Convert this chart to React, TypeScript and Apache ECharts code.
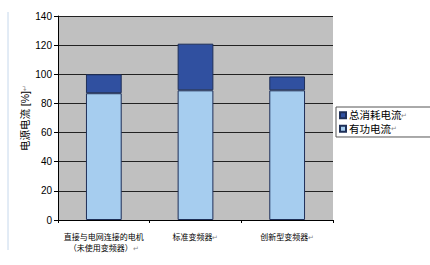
import React, { useEffect, useRef } from "react";
import * as echarts from "echarts";

// Supply current per drive configuration (% of rated)
const categories = ["直接与电网连接的电机\n（未使用变频器）", "标准变频器", "创新型变频器"];
const totalCurrent = [100, 121, 98.5];
const activeCurrent = [87, 89, 89];
const yTicks = { min: 0, max: 140, interval: 20 };

const seriesTotalName = "总消耗电流";
const seriesActiveName = "有功电流";
const yAxisName = "电源电流 [%]";

const FONT = "'Liberation Sans', 'Noto Sans CJK SC', sans-serif";
const retMark = { fontSize: 7, color: "#888", fontFamily: FONT };

export default function App() {
  const ref = useRef<HTMLDivElement>(null);

  useEffect(() => {
    if (!ref.current) return;
    const chart = echarts.init(ref.current, null, { renderer: "svg" });
    // upper segment = total minus the active part
    const reactivePart = totalCurrent.map((t, i) => +(t - activeCurrent[i]).toFixed(2));

    chart.setOption({
      animation: false,
      backgroundColor: "#fff",
      textStyle: { fontFamily: FONT },
      grid: { left: 58, right: 97, top: 16, bottom: 45, show: true, backgroundColor: "#c0c0c0", borderWidth: 0 },
      legend: {
        orient: "vertical",
        left: 336,
        top: 107,
        data: [seriesTotalName, seriesActiveName],
        backgroundColor: "#fff",
        borderColor: "#555",
        borderWidth: 1,
        borderRadius: 0,
        padding: [3, 24, 3, 3],
        itemWidth: 6,
        itemHeight: 6,
        itemGap: 3,
        icon: "rect",
        formatter: (n: string) => `${n}{r|↵}`,
        textStyle: { fontSize: 10.5, color: "#000", fontFamily: FONT, padding: [0, 0, 0, -2], rich: { r: retMark } },
      },
      xAxis: {
        type: "category",
        data: categories,
        boundaryGap: true,
        axisLine: { lineStyle: { color: "#000", width: 1 } },
        axisTick: { show: true, length: 3, lineStyle: { color: "#000" } },
        axisLabel: {
          fontSize: 8,
          color: "#000",
          margin: 12,
          lineHeight: 11,
          interval: 0,
          formatter: (v: string) => `${v}{r|↵}`,
          rich: { r: retMark },
        },
      },
      yAxis: {
        type: "value",
        min: yTicks.min,
        max: yTicks.max,
        interval: yTicks.interval,
        name: `${yAxisName}{r|↵}`,
        nameLocation: "middle",
        nameRotate: 90,
        nameGap: 28,
        nameMoveOverlap: false,
        nameTextStyle: { fontSize: 10.5, color: "#000", fontFamily: FONT, rich: { r: retMark } },
        axisLine: { show: true, lineStyle: { color: "#000", width: 1 } },
        axisTick: { show: true, length: 4, lineStyle: { color: "#000" } },
        axisLabel: { fontSize: 10, color: "#000", margin: 6, fontFamily: FONT },
        splitLine: { show: true, lineStyle: { color: "#222", width: 1 } },
      },
      series: [
        {
          name: seriesActiveName,
          type: "bar",
          stack: "current",
          barWidth: "39%",
          data: activeCurrent,
          itemStyle: { color: "#a6cdef", borderColor: "#1e2f58", borderWidth: 1 },
        },
        {
          name: seriesTotalName,
          type: "bar",
          stack: "current",
          barWidth: "39%",
          data: reactivePart,
          itemStyle: { color: "#3050a0", borderColor: "#1e2f58", borderWidth: 1 },
        },
      ],
      graphic: [
        {
          type: "line",
          shape: { x1: 8, y1: 12, x2: 8, y2: 250 },
          style: { stroke: "#c6d8ec", lineWidth: 1 },
        },
      ],
    });
    return () => chart.dispose();
  }, []);

  return <div ref={ref} style={{ position: "fixed", left: 0, top: 0, width: 430, height: 265 }} />;
}
